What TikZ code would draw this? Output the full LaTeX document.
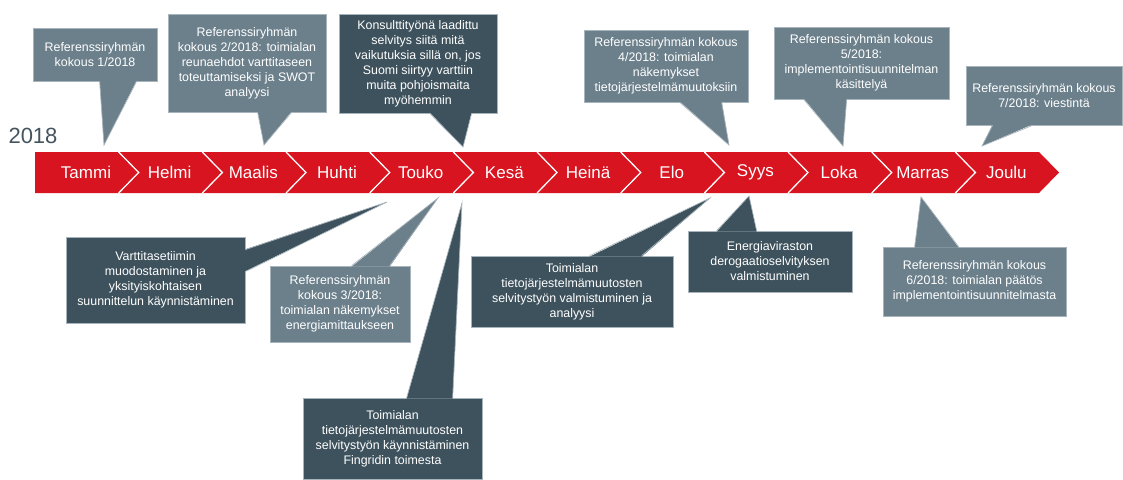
\documentclass[tikz,border=0pt]{standalone}
\usepackage{fontspec}
\setmainfont{Liberation Sans}
\definecolor{ribbon}{HTML}{D7141F}
\definecolor{slatelight}{HTML}{6C808C}
\definecolor{slatedark}{HTML}{3E525D}
\definecolor{slateline}{HTML}{A8B4BB}
\definecolor{yeartext}{HTML}{44545F}
\begin{document}
\begin{tikzpicture}[x=1pt, y=-1pt]
    \tikzset{
      box/.style={align=center, text=white, inner sep=0pt, draw=slateline, line width=0.7pt,
                  font=\fontsize{12.4}{15}\selectfont},
      light/.style={box, fill=slatelight},
      dark/.style={box, fill=slatedark},
      month/.style={text=white, font=\fontsize{17}{17}\selectfont},
      wedge/.style={draw=slateline, line width=0.7pt}
    }
    \useasboundingbox (0,0) rectangle (1123,479);

    % timeline
    \fill[ribbon] (35,152) -- (1039,152) -- (1059,172.5) -- (1039,193) -- (35,193) -- cycle;
    \foreach \i in {1,...,11}
      \draw[white, line width=1.3pt] (35+83.67*\i,152) -- (55+83.67*\i,172.5) -- (35+83.67*\i,193);
    \foreach \m [count=\i from 0] in {Tammi,Helmi,Maalis,Huhti,Touko,Kesä,Heinä,Elo,Syys,Loka,Marras,Joulu}
      \node[month] (m\i) at (86+83.67*\i,172.5) {\m};
    \node[text=yeartext, font=\fontsize{22}{22}\selectfont] (year) at (33,136) {2018};

    % above
    \node[light, minimum width=124pt, minimum height=53pt] (c1) at (95,54.5) {Referenssiryhmän\\kokous 1/2018};
    \node[light, minimum width=158pt, minimum height=98pt] (c2) at (247,63) {Referenssiryhmän\\kokous 2/2018: toimialan\\reunaehdot varttitaseen\\toteuttamiseksi ja SWOT\\analyysi};
    \node[dark, minimum width=158pt, minimum height=99pt] (c3) at (418,63.5) {Konsulttityönä laadittu\\selvitys siitä mitä\\vaikutuksia sillä on, jos\\Suomi siirtyy varttiin\\muita pohjoismaita\\myöhemmin};
    \node[light, minimum width=164pt, minimum height=72pt] (c4) at (666,66) {Referenssiryhmän kokous\\4/2018: toimialan\\näkemykset\\tietojärjestelmämuutoksiin};
    \node[light, minimum width=175pt, minimum height=72pt] (c5) at (861.5,63) {Referenssiryhmän kokous\\5/2018:\\implementointisuunnitelman\\käsittelyä};
    \node[light, minimum width=156pt, minimum height=59pt] (c6) at (1044,95.5) {Referenssiryhmän kokous\\7/2018: viestintä};

    % below
    \node[dark, minimum width=179pt, minimum height=86pt] (c7) at (155.5,280) {Varttitasetiimin\\muodostaminen ja\\yksityiskohtaisen\\suunnittelun käynnistäminen};
    \node[light, minimum width=140pt, minimum height=76pt] (c8) at (340,304) {Referenssiryhmän\\kokous 3/2018:\\toimialan näkemykset\\energiamittaukseen};
    \node[dark, minimum width=179pt, minimum height=81pt] (c9) at (392.5,438.5) {Toimialan\\tietojärjestelmämuutosten\\selvitystyön käynnistäminen\\Fingridin toimesta};
    \node[dark, minimum width=202pt, minimum height=71pt] (c10) at (572,291.5) {Toimialan\\tietojärjestelmämuutosten\\selvitystyön valmistuminen ja\\analyysi};
    \node[dark, minimum width=164pt, minimum height=61pt] (c11) at (770,261.5) {Energiaviraston\\derogaatioselvityksen\\valmistuminen};
    \node[light, minimum width=183pt, minimum height=69pt] (c12) at (974.5,281.5) {Referenssiryhmän kokous\\6/2018: toimialan päätös\\implementointisuunnitelmasta};

    \coordinate (t1) at (104,145);
    \coordinate (t2) at (264,145);
    \coordinate (t3) at (463,147);
    \coordinate (t4) at (729,145);
    \coordinate (t5) at (843,146);
    \coordinate (t6) at (982,146);
    \coordinate (t7) at (387,202);
    \coordinate (t8) at (438,198);
    \coordinate (t9) at (462,203);
    \coordinate (t10) at (710,198);
    \coordinate (t11) at (749,196);
    \coordinate (t12) at (921,197);

    \fill[slatelight] ([xshift=67pt,yshift=1pt]c1.south west) -- (t1) -- ([xshift=104pt,yshift=1pt]c1.south west) -- cycle;
    \draw[wedge] ([xshift=67pt]c1.south west) -- (t1) -- ([xshift=104pt]c1.south west);
    \fill[slatelight] ([xshift=90pt,yshift=1pt]c2.south west) -- (t2) -- ([xshift=124pt,yshift=1pt]c2.south west) -- cycle;
    \draw[wedge] ([xshift=90pt]c2.south west) -- (t2) -- ([xshift=124pt]c2.south west);
    \fill[slatedark] ([xshift=91pt,yshift=1pt]c3.south west) -- (t3) -- ([xshift=133pt,yshift=1pt]c3.south west) -- cycle;
    \draw[wedge] ([xshift=91pt]c3.south west) -- (t3) -- ([xshift=133pt]c3.south west);
    \fill[slatelight] ([xshift=96pt,yshift=1pt]c4.south west) -- (t4) -- ([xshift=138pt,yshift=1pt]c4.south west) -- cycle;
    \draw[wedge] ([xshift=96pt]c4.south west) -- (t4) -- ([xshift=138pt]c4.south west);
    \fill[slatelight] ([xshift=30pt,yshift=1pt]c5.south west) -- (t5) -- ([xshift=73pt,yshift=1pt]c5.south west) -- cycle;
    \draw[wedge] ([xshift=30pt]c5.south west) -- (t5) -- ([xshift=73pt]c5.south west);
    \fill[slatelight] ([xshift=27pt,yshift=1pt]c6.south west) -- (t6) -- ([xshift=67pt,yshift=1pt]c6.south west) -- cycle;
    \draw[wedge] ([xshift=27pt]c6.south west) -- (t6) -- ([xshift=67pt]c6.south west);

    \fill[slatedark] ([xshift=-1pt,yshift=-13pt]c7.north east) -- (t7) -- ([xshift=-1pt,yshift=-35pt]c7.north east) -- cycle;
    \draw[wedge] ([yshift=-13pt]c7.north east) -- (t7) -- ([yshift=-35pt]c7.north east);
    \fill[slatelight] ([xshift=82pt,yshift=-1pt]c8.north west) -- (t8) -- ([xshift=120pt,yshift=-1pt]c8.north west) -- cycle;
    \draw[wedge] ([xshift=82pt]c8.north west) -- (t8) -- ([xshift=120pt]c8.north west);
    \fill[slatedark] ([xshift=104pt,yshift=-1pt]c9.north west) -- (t9) -- ([xshift=150pt,yshift=-1pt]c9.north west) -- cycle;
    \draw[wedge] ([xshift=104pt]c9.north west) -- (t9) -- ([xshift=150pt]c9.north west);
    \fill[slatedark] ([xshift=119pt,yshift=-1pt]c10.north west) -- (t10) -- ([xshift=171pt,yshift=-1pt]c10.north west) -- cycle;
    \draw[wedge] ([xshift=119pt]c10.north west) -- (t10) -- ([xshift=171pt]c10.north west);
    \fill[slatedark] ([xshift=29pt,yshift=-1pt]c11.north west) -- (t11) -- ([xshift=69pt,yshift=-1pt]c11.north west) -- cycle;
    \draw[wedge] ([xshift=29pt]c11.north west) -- (t11) -- ([xshift=69pt]c11.north west);
    \fill[slatelight] ([xshift=32pt,yshift=-1pt]c12.north west) -- (t12) -- ([xshift=76pt,yshift=-1pt]c12.north west) -- cycle;
    \draw[wedge] ([xshift=32pt]c12.north west) -- (t12) -- ([xshift=76pt]c12.north west);
\end{tikzpicture}
\end{document}
